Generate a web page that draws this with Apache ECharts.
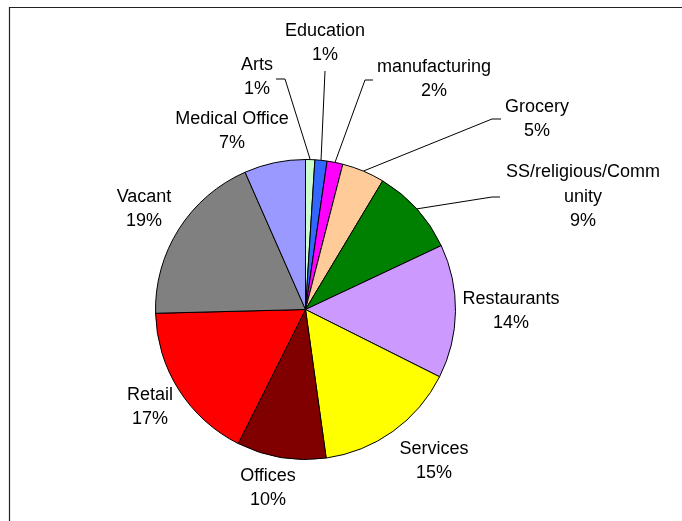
<!DOCTYPE html>
<html>
<head>
<meta charset="utf-8">
<script src="https://cdn.jsdelivr.net/npm/echarts@6/dist/echarts.min.js"></script>
<style>html,body{margin:0;padding:0;background:#fff;}#c{width:682px;height:521px;}</style>
</head>
<body>
<div id="c"></div>
<script>
// Data (clockwise from 12 o'clock)
const categories = ['Arts', 'Education', 'manufacturing', 'Grocery', 'SS/religious/Community',
  'Restaurants', 'Services', 'Offices', 'Retail', 'Vacant', 'Medical Office'];
const values = [1.0, 1.3, 1.7, 4.6, 9.4, 14.4, 15.4, 9.6, 17.2, 18.8, 6.6];
const colors = ['#CCFFCC', '#3366FF', '#FF00FF', '#FFCC99', '#008000',
  '#CC99FF', '#FFFF00', '#800000', '#FF0000', '#808080', '#9999FF'];

// Label placement (layout only): label block centre, and leader-line end / elbow
const labelPlace = [
  {x: 257, y: 77, line: [[285, 79], [276, 79]]},
  {x: 325, y: 43, line: [[325, 71], [325, 71]]},
  {x: 434, y: 79, line: [[365, 80], [373, 80]]},
  {x: 537, y: 119, line: [[492, 119], [501, 119]]},
  {x: 583, y: 197, line: [[492, 197], [500, 197]]},
  {x: 511, y: 311},
  {x: 434, y: 461},
  {x: 268, y: 488},
  {x: 150, y: 407},
  {x: 144, y: 209},
  {x: 232, y: 131}
];

const chart = echarts.init(document.getElementById('c'), null, {renderer: 'canvas'});

const data = categories.map((n, i) => ({
  name: n,
  value: values[i],
  itemStyle: {color: colors[i]},
  labelLine: {show: !!labelPlace[i].line}
}));

function wrapName(n) {
  return n.length > 17 ? n.slice(0, 17) + '\n' + n.slice(17) : n;
}

chart.setOption({
  animation: false,
  backgroundColor: '#fff',
  graphic: [{
    type: 'rect',
    shape: {x: 9.5, y: 7.5, width: 900, height: 900},
    style: {fill: 'none', stroke: '#222', lineWidth: 1.2},
    silent: true
  }],
  series: [{
    type: 'pie',
    center: [305.5, 309.5],
    radius: 150,
    startAngle: 90,
    clockwise: true,
    data: data,
    itemStyle: {borderColor: '#000', borderWidth: 1},
    emphasis: {disabled: true},
    label: {
      show: true,
      position: 'outside',
      color: '#000',
      fontFamily: 'Liberation Sans, Arial, sans-serif',
      fontSize: 18,
      lineHeight: 24.5,
      formatter: p => wrapName(p.name) + '\n' + Math.round(p.percent) + '%'
    },
    labelLine: {
      show: true,
      length: 20,
      length2: 10,
      lineStyle: {color: '#000', width: 1}
    },
    labelLayout: function (params) {
      const lp = labelPlace[params.dataIndex];
      const out = {x: lp.x, y: lp.y, align: 'center', verticalAlign: 'middle', hideOverlap: false, moveOverlap: null};
      if (lp.line && params.labelLinePoints) {
        const p0 = params.labelLinePoints[0];
        out.labelLinePoints = [[p0[0], p0[1]], lp.line[0], lp.line[1]];
      }
      return out;
    }
  }]
});
</script>
</body>
</html>
